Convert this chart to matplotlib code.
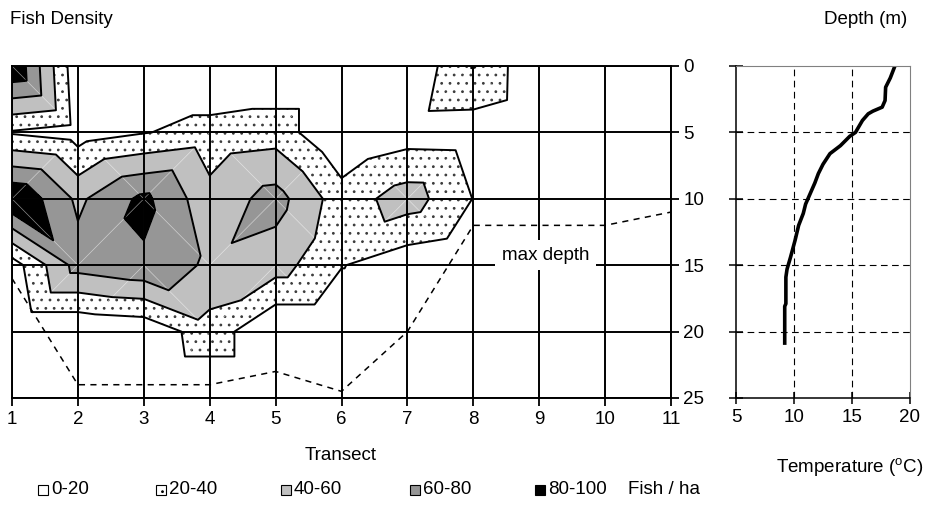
import matplotlib
matplotlib.use('Agg')
import matplotlib.pyplot as plt
import matplotlib.tri as mtri
from matplotlib.patches import Rectangle
import numpy as np

plt.rcParams['font.family'] = ['Liberation Sans', 'DejaVu Sans']
plt.rcParams['mathtext.fontset'] = 'custom'
plt.rcParams['mathtext.rm'] = 'Liberation Sans'
plt.rcParams['hatch.color'] = '#3c3c3c'
plt.rcParams['hatch.linewidth'] = 0.8

FS = 13.5

transects = [1, 2, 3, 4, 5, 6, 7, 8, 9, 10, 11]
depths = [0, 5, 10, 15, 20, 25]

# fish / ha, one row per depth, one column per transect
density = [
    [100, 5, 0, 0, 0, 0, 2, 41, 1, 0, 0],
    [18, 10, 19, 27, 31, 0, 10, 9, 0, 0, 0],
    [100, 56, 85, 47, 68, 29, 50, 19.5, 0, 0, 0],
    [10, 68, 77, 56, 49, 21, 7, 0, 0, 0, 0],
    [0, 0, 4, 32, 0, 0, 0, 0, 0, 0, 0],
    [0, 0, 0, 0, 0, 0, 0, 0, 0, 0, 0],
]

# bottom depth along the transects
max_depth = [16, 24, 24, 24, 23, 24.5, 20, 12, 12, 12, 11]

# temperature profile
temp_depth = [0, 0.9, 1.6, 2.6, 3.1, 3.4, 3.6, 4.1, 5.0, 5.3, 6.0, 6.6, 7.4,
              8.1, 8.8, 9.6, 10.4, 11.1, 12.0, 13.1, 14.4, 15.3, 15.9, 17.9,
              18.1, 19.6, 21.0]
temp_c = [18.7, 18.3, 17.9, 17.85, 17.6, 16.8, 16.4, 15.9, 15.3, 14.8, 14.0,
          13.1, 12.5, 12.1, 11.8, 11.4, 11.0, 10.8, 10.4, 10.1, 9.7, 9.4, 9.3,
          9.3, 9.2, 9.2, 9.2]

levels = [0, 20, 40, 60, 80, 100]
band_labels = ['0-20', '20-40', '40-60', '60-80', '80-100']
band_colors = ['white', 'white', '#c0c0c0', '#969696', 'black']
band_hatch = [None, '..', None, None, None]

W, H = 925, 515
fig = plt.figure(figsize=(W / 100, H / 100), dpi=100)

# pixel box -> figure fraction
def box(x0, y0, x1, y1):
    return [x0 / W, 1 - y1 / H, (x1 - x0) / W, (y1 - y0) / H]

ax = fig.add_axes(box(12, 66, 671, 398))

# split every grid cell in two triangles, along the diagonal joining the higher corners
z = np.array(density, dtype=float).ravel()
tt, dd = np.meshgrid(transects, depths)
nt = len(transects)
tris = []
for j in range(len(depths) - 1):
    for i in range(nt - 1):
        a = j * nt + i
        b, c = a + 1, a + nt
        e = c + 1
        if z[a] + z[e] >= z[b] + z[c]:
            tris += [[a, b, e], [a, e, c]]
        else:
            tris += [[a, b, c], [b, e, c]]
tri = mtri.Triangulation(tt.ravel().astype(float), dd.ravel().astype(float), tris)

ax.tricontourf(tri, z, levels=levels, colors=band_colors, hatches=band_hatch, zorder=1)
ax.triplot(tri, color='white', lw=0.5, alpha=0.55, zorder=1.5)
ax.tricontour(tri, z, levels=levels[1:-1], colors='black', linewidths=1.4, zorder=2)

ax.plot(transects, max_depth, color='black', lw=1.1, ls=(0, (4, 3.5)), zorder=3)

ax.set_xlim(1, 11)
ax.set_ylim(25, 0)
ax.set_xticks(transects)
ax.set_yticks(depths)
ax.yaxis.tick_right()
ax.grid(True, color='black', lw=1.4)
ax.set_axisbelow(False)
for s in ax.spines.values():
    s.set_linewidth(1.4)
ax.tick_params(direction='out', length=6, width=1.3, labelsize=FS, pad=3)

ax.text(9.1, 14.25, 'max depth', fontsize=FS, ha='center', va='center', zorder=5,
        bbox=dict(boxstyle='square,pad=0.35', fc='white', ec='none'))

# temperature panel
ax2 = fig.add_axes(box(736, 66, 910, 398))
ax2.plot(temp_c, temp_depth, color='black', lw=2.6, solid_capstyle='butt')
ax2.set_xlim(5, 20)
ax2.set_ylim(25, 0)
ax2.set_xticks([5, 10, 15, 20])
ax2.set_yticks(depths)
ax2.set_yticklabels([])
for d in depths[1:-1]:
    ax2.axhline(d, color='black', lw=0.8, ls=(0, (6, 4)))
for t in [10, 15]:
    ax2.axvline(t, color='black', lw=0.8, ls=(0, (6, 4)))
ax2.spines['top'].set_color('#808080')
ax2.spines['right'].set_color('#808080')
ax2.spines['left'].set_linewidth(1.1)
ax2.spines['bottom'].set_linewidth(1.1)
ax2.tick_params(axis='y', direction='inout', length=10, width=1.1)
ax2.tick_params(axis='x', direction='inout', length=8, width=1.1, labelsize=FS, pad=4)

fig.text(10 / W, 1 - 20 / H, 'Fish Density', fontsize=FS, ha='left', va='center')
fig.text(907 / W, 1 - 20 / H, 'Depth (m)', fontsize=FS, ha='right', va='center')
fig.text(341 / W, 1 - 455 / H, 'Transect', fontsize=FS, ha='center', va='center')
fig.text(850 / W, 1 - 468 / H, r'Temperature ($^\mathrm{o}$C)', fontsize=FS,
         ha='center', va='center')

# key along the bottom
key_x = [38, 156, 281, 410, 535]
key_y = 490
for x, lab, col, h in zip(key_x, band_labels, band_colors, band_hatch):
    fig.patches.append(Rectangle((x / W, (H - key_y - 5) / H), 10 / W, 10 / H,
                                 transform=fig.transFigure, facecolor=col,
                                 edgecolor='black', lw=0.8, hatch=h))
    fig.text((x + 13) / W, 1 - key_y / H, lab, fontsize=FS, ha='left', va='center')
fig.text(628 / W, 1 - key_y / H, 'Fish / ha', fontsize=FS, ha='left', va='center')

fig.savefig('out.png', dpi=100)
